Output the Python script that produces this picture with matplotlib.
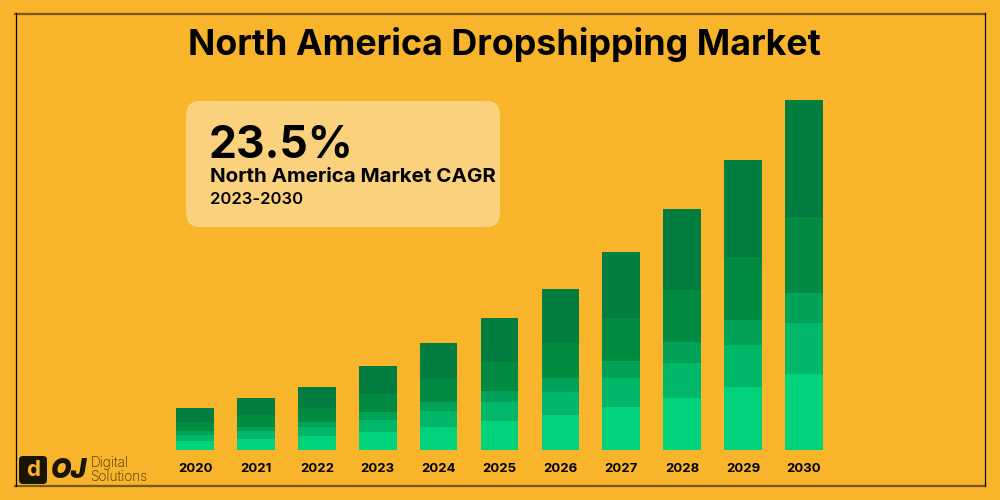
import matplotlib
matplotlib.use("Agg")
import matplotlib.pyplot as plt
from matplotlib.patches import FancyBboxPatch
from matplotlib.lines import Line2D
import numpy as np

plt.rcParams['font.family'] = ['Inter', 'DejaVu Sans']

years = ['2020', '2021', '2022', '2023', '2024', '2025', '2026', '2027', '2028', '2029', '2030']
# stacked segments, bottom to top (relative market size units)
seg1 = [9.1, 11.3, 13.7, 18.2, 23.2, 28.6, 34.9, 43.0, 52.3, 62.9, 76.0]
seg2 = [6.1, 7.6, 9.2, 12.3, 15.6, 19.3, 23.5, 28.9, 35.2, 42.3, 51.0]
seg3 = [3.6, 4.5, 5.4, 7.2, 9.2, 11.4, 13.8, 17.0, 20.7, 24.9, 30.0]
seg4 = [9.1, 11.3, 13.7, 18.2, 23.2, 28.6, 34.9, 43.0, 52.3, 62.9, 76.0]
seg5 = [14.0, 17.4, 21.0, 28.1, 35.7, 44.1, 53.8, 66.1, 80.5, 97.0, 117.0]
seg_colors = ['#00D27C', '#00B868', '#00A257', '#008A42', '#007D3F']

bg = '#F8B42A'
W, H = 1000, 500
fig = plt.figure(figsize=(10, 5), dpi=100, facecolor=bg)

# overlay in pixel coords
ov = fig.add_axes([0, 0, 1, 1])
ov.set_xlim(0, W)
ov.set_ylim(H, 0)
ov.axis('off')

# frame
ov.add_line(Line2D([15, 985], [13.5, 13.5], color='#7A5A10', lw=1.6))
ov.add_line(Line2D([15, 985], [486, 486], color='#7A5A10', lw=1.6))
ov.add_line(Line2D([15.5, 15.5], [13, 486], color='black', lw=0.9))
ov.add_line(Line2D([984.5, 984.5], [13, 486], color='black', lw=0.9))

ov.text(504, 44, 'North America Dropshipping Market', ha='center', va='center',
        fontsize=25.8, fontweight='bold', color='black')

# CAGR box
ov.add_patch(FancyBboxPatch((186, 101), 314, 126, boxstyle='round,pad=0,rounding_size=14',
                            fc='#FAD27E', ec='none'))
ov.text(209, 158, '23.5%', ha='left', va='baseline', fontsize=32, fontweight='bold', color='black')
ov.text(210, 182, 'North America Market CAGR', ha='left', va='baseline', fontsize=14.8,
        fontweight='bold', color='black')
ov.text(210, 204, '2023-2030', ha='left', va='baseline', fontsize=12,
        fontweight='semibold', color='black')

# logo
ov.add_patch(FancyBboxPatch((19, 456), 28, 28, boxstyle='round,pad=0,rounding_size=4',
                            fc='#1A1405', ec='none'))
ov.text(33, 470, 'd', ha='center', va='center', fontsize=16, fontweight='bold', color=bg)
ov.text(51, 471, 'OJ', ha='left', va='center', fontsize=19, fontweight='black',
        style='italic', color='#1A1405')
ov.text(91, 463, 'Digital', ha='left', va='center', fontsize=9.8, fontweight='light', color='#3A2A05')
ov.text(91, 477, 'Solutions', ha='left', va='center', fontsize=9.8, fontweight='light', color='#3A2A05')

# bars
x = np.arange(len(years))
left_px, right_px = 164.55, 834.45
ax = fig.add_axes([left_px / W, 1 - 450 / H, (right_px - left_px) / W, 350 / H])
ax.set_facecolor('none')
bottom = np.zeros(len(years))
for seg, c in zip([seg1, seg2, seg3, seg4, seg5], seg_colors):
    ax.bar(x, seg, width=0.62, bottom=bottom, color=c, edgecolor='none')
    bottom += np.array(seg)
ax.set_xlim(-0.5, 10.5)
ax.set_ylim(0, 350)
ax.set_yticks([])
ax.set_xticks(x)
ax.set_xticklabels(years, fontsize=9.5, fontweight='bold')
ax.tick_params(axis='x', length=0, pad=9)
for s in ax.spines.values():
    s.set_visible(False)

fig.savefig('out.png', dpi=100, facecolor=bg)
